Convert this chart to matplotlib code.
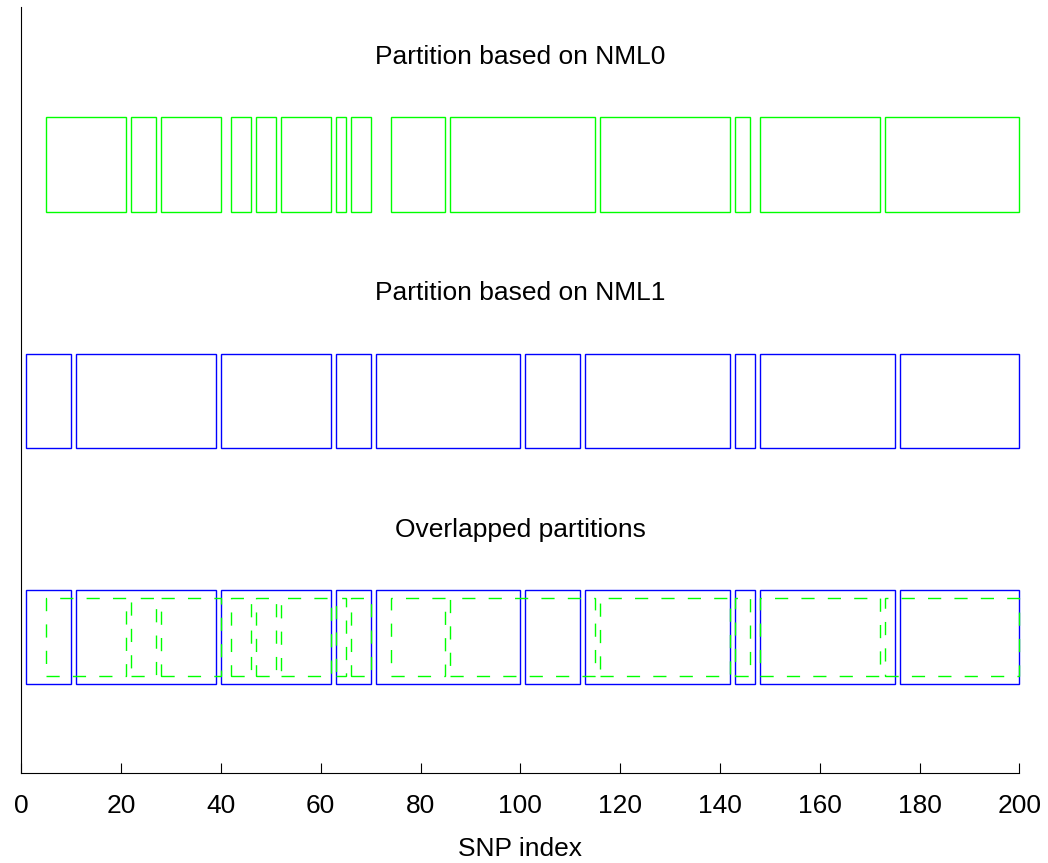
import matplotlib
matplotlib.use("Agg")
import matplotlib.pyplot as plt
import matplotlib.patches as mpatches

plt.rcParams['font.family'] = ['Liberation Sans', 'DejaVu Sans']

# SNP blocks, start and end index of each block
nml0_starts = [5, 22, 28, 42, 47, 52, 63, 66, 74, 86, 116, 143, 148, 173]
nml0_ends = [21, 27, 40, 46, 51, 62, 65, 70, 85, 115, 142, 146, 172, 200]
nml1_starts = [1, 11, 40, 63, 71, 101, 113, 143, 148, 176]
nml1_ends = [10, 39, 62, 70, 100, 112, 142, 147, 175, 200]

titles = ['Partition based on NML0', 'Partition based on NML1', 'Overlapped partitions']
row_base = [2.375, 1.375, 0.375]
box_h = 0.4

fig = plt.figure(figsize=(10.48, 8.63), dpi=100)
ax = fig.add_axes([21.3 / 1048, 1 - 773 / 863, (1019.3 - 21.3) / 1048, 766 / 863])


def draw_blocks(starts, ends, y, h, color, ls='-'):
    for s, e in zip(starts, ends):
        ax.add_patch(mpatches.Rectangle((s, y), e - s, h, fill=False, edgecolor=color,
                                        linewidth=1.0, linestyle=ls, clip_on=False))


draw_blocks(nml0_starts, nml0_ends, row_base[0], box_h, (0, 1, 0))
draw_blocks(nml1_starts, nml1_ends, row_base[1], box_h, (0, 0, 1))
draw_blocks(nml1_starts, nml1_ends, row_base[2], box_h, (0, 0, 1))
draw_blocks(nml0_starts, nml0_ends, row_base[2] + 0.035, box_h - 0.07, (0, 1, 0),
            ls=(0, (9.5, 9.5)))

for t, yb in zip(titles, row_base):
    ax.text(100, yb + 0.655, t, ha='center', va='center', fontsize=19)

ax.set_xlim(0, 200)
ax.set_ylim(0, 766 / 236.3)
ax.set_xticks(range(0, 201, 20))
ax.set_yticks([])
ax.spines['top'].set_visible(False)
ax.spines['right'].set_visible(False)
ax.spines['left'].set_linewidth(0.8)
ax.spines['bottom'].set_linewidth(0.8)
ax.tick_params(axis='x', direction='in', length=7, width=0.8, pad=15, labelsize=19)
ax.set_xlabel('SNP index', fontsize=19, labelpad=14)

fig.savefig('out.png', dpi=100)
